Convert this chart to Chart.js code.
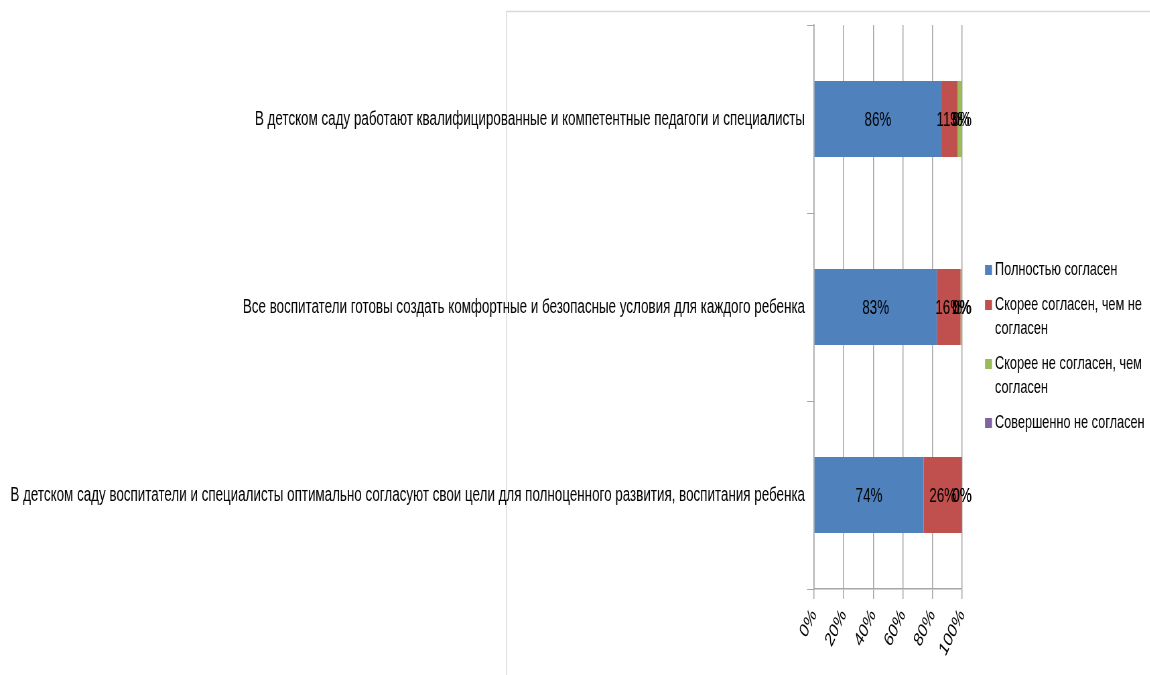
<!DOCTYPE html>
<html>
<head>
<meta charset="utf-8">
<script src="https://cdn.jsdelivr.net/npm/chart.js@4.4.1/dist/chart.umd.min.js"></script>
<style>
  html, body { margin: 0; padding: 0; background: #ffffff; overflow: hidden; }
  #wrap { width: 1150px; height: 675px; position: relative; overflow: hidden; }
  #c { position: absolute; left: 0; top: 0; transform-origin: 0 0; }
</style>
</head>
<body>
<div id="wrap"><canvas id="c"></canvas></div>
<script>
const categories = [
  'В детском саду работают квалифицированные и компетентные педагоги и специалисты',
  'Все воспитатели готовы создать комфортные и безопасные условия для каждого ребенка',
  'В детском саду воспитатели и специалисты оптимально согласуют свои цели для полноценного развития, воспитания ребенка'
];
const seriesNames = [
  'Полностью согласен',
  'Скорее согласен, чем не согласен',
  'Скорее не согласен, чем согласен',
  'Совершенно не согласен'
];
const fullyAgree = [86, 83, 74];
const ratherAgree = [11, 16, 26];
const ratherDisagree = [3, 1, 0];
const fullyDisagree = [0, 0, 0];
const xTicks = [0, 20, 40, 60, 80, 100];
const seriesColors = ['#4F81BD', '#C0504D', '#9BBB59', '#8064A2'];

// the reference looks horizontally condensed: draw wide, then squeeze with CSS
const SQ = 0.67;
const W = Math.round(1150 / SQ);
const H = 675;
const px = v => v / SQ; // reference x-distance -> canvas units

const canvas = document.getElementById('c');
canvas.width = W; canvas.height = H;
canvas.style.width = W + 'px'; canvas.style.height = H + 'px';
canvas.style.transform = 'scaleX(' + SQ + ')';

const FONT = "'Liberation Sans', Arial, sans-serif";
const FS = 20;
const LEG_FS = 19;
const GRID = '#a6a6a6';

const frame = {
  id: 'frame',
  beforeDraw(chart) {
    const ctx = chart.ctx;
    ctx.save();
    ctx.strokeStyle = '#d9d9d9';
    ctx.lineWidth = 1.4;
    ctx.beginPath();
    ctx.moveTo(px(506.5), H + 5);
    ctx.lineTo(px(506.5), 11.5);
    ctx.lineTo(W + 10, 11.5);
    ctx.stroke();
    ctx.restore();
  }
};

const valueLabels = {
  id: 'valueLabels',
  afterDatasetsDraw(chart) {
    const ctx = chart.ctx;
    ctx.save();
    ctx.font = FS + 'px ' + FONT;
    ctx.fillStyle = '#000000';
    ctx.textAlign = 'center';
    ctx.textBaseline = 'middle';
    chart.data.datasets.forEach((ds, di) => {
      const meta = chart.getDatasetMeta(di);
      meta.data.forEach((el, i) => {
        const cx = (el.x + el.base) / 2;
        ctx.fillText(ds.data[i] + '%', cx, el.y + 1);
      });
    });
    ctx.restore();
  }
};

function wrapText(ctx, text, maxW) {
  const words = text.split(' ');
  const lines = [];
  let cur = '';
  words.forEach(w => {
    const t = cur ? cur + ' ' + w : w;
    if (ctx.measureText(t).width > maxW && cur) { lines.push(cur); cur = w; }
    else cur = t;
  });
  if (cur) lines.push(cur);
  return lines;
}

const sideLegend = {
  id: 'sideLegend',
  afterDraw(chart) {
    const ctx = chart.ctx;
    ctx.save();
    ctx.font = LEG_FS + 'px ' + FONT;
    ctx.textBaseline = 'middle';
    ctx.textAlign = 'left';
    let y = 270;
    chart.data.datasets.forEach((ds) => {
      ctx.fillStyle = ds.backgroundColor;
      ctx.fillRect(px(985), y - 5, px(7), 10);
      ctx.fillStyle = '#000000';
      const lines = wrapText(ctx, ds.label, px(158));
      lines.forEach((ln, li) => {
        ctx.fillText(ln, px(995), y + li * 24);
      });
      y += (lines.length - 1) * 24 + 35;
    });
    ctx.restore();
  }
};

new Chart(canvas, {
  type: 'bar',
  data: {
    labels: categories,
    datasets: [
      { label: seriesNames[0], data: fullyAgree, backgroundColor: seriesColors[0] },
      { label: seriesNames[1], data: ratherAgree, backgroundColor: seriesColors[1] },
      { label: seriesNames[2], data: ratherDisagree, backgroundColor: seriesColors[2] },
      { label: seriesNames[3], data: fullyDisagree, backgroundColor: seriesColors[3] }
    ]
  },
  options: {
    indexAxis: 'y',
    responsive: false,
    animation: false,
    devicePixelRatio: 1,
    layout: { padding: { left: 0, top: 25, right: W - px(962), bottom: 0 } },
    datasets: { bar: { barPercentage: 0.405, categoryPercentage: 1 } },
    plugins: { legend: { display: false }, tooltip: { enabled: false } },
    scales: {
      x: {
        stacked: true,
        min: 0, max: 100,
        afterBuildTicks(scale) { scale.ticks = xTicks.map(v => ({ value: v })); },
        afterFit(scale) { scale.height = 86; },
        ticks: {
          callback: v => v + '%',
          minRotation: 55, maxRotation: 55,
          color: '#000000',
          padding: 6,
          font: { family: FONT, size: FS }
        },
        grid: { color: GRID, lineWidth: 1.5, tickLength: 10, drawTicks: true },
        border: { color: GRID, width: 1.5 }
      },
      y: {
        stacked: true,
        afterFit(scale) { scale.width = px(814); },
        ticks: {
          color: '#000000',
          padding: px(2),
          font: { family: FONT, size: FS }
        },
        grid: { offset: true, drawOnChartArea: false, color: GRID, tickLength: px(7) },
        border: { color: GRID, width: 1.5 }
      }
    }
  },
  plugins: [frame, valueLabels, sideLegend]
});
</script>
</body>
</html>
